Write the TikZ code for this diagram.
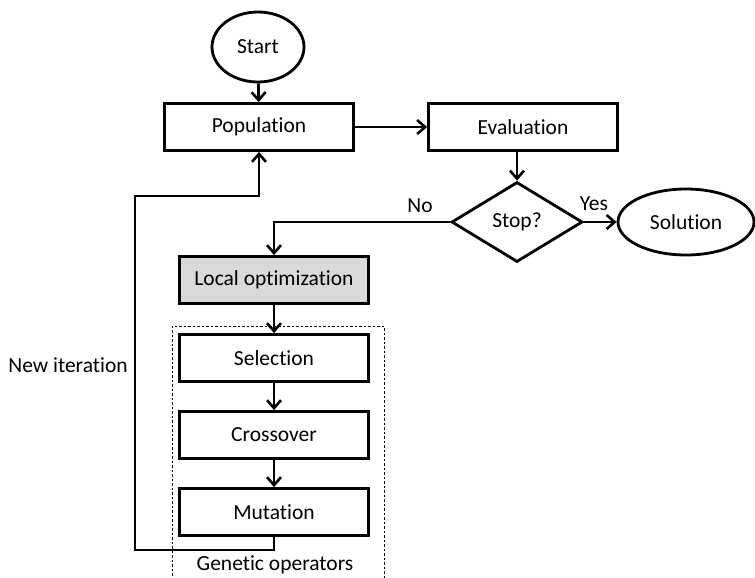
\documentclass[tikz,border=0pt]{standalone}
\usepackage{fontspec}
\setmainfont{Carlito}[Ligatures={NoCommon,NoRequired,NoContextual}]
\usetikzlibrary{shapes.geometric,arrows.meta}
\definecolor{boxgray}{RGB}{217,217,217}
\begin{document}
\begin{tikzpicture}[x=1pt,y=-1pt,
  font=\fontsize{21.5}{25}\selectfont,
  line width=2.8pt,
  stepbox/.style={draw,rectangle,minimum width=189pt,minimum height=47pt,inner sep=0pt},
  ovalbox/.style={draw,ellipse,inner sep=0pt},
  arr/.style={-{Straight Barb[length=8pt,width=14pt,line width=2.6pt]}},
  lbl/.style={inner sep=0pt}]
\useasboundingbox (0,0) rectangle (755,578);
\node[ovalbox,minimum width=92pt,minimum height=70pt] (start) at (258,47) {Start};
\node[stepbox] (pop) at (259,127) {Population};
\node[stepbox] (eval) at (523,127) {Evaluation};
\node[draw,diamond,minimum width=131pt,minimum height=80pt,inner sep=0pt] (stop) at (517,222) {Stop?};
\node[ovalbox,minimum width=136pt,minimum height=66pt] (sol) at (686,222) {Solution};
\node[stepbox,fill=boxgray] (lopt) at (274,280) {Local optimization};
\node[stepbox] (sel) at (274,358) {Selection};
\node[stepbox] (cross) at (274,435) {Crossover};
\node[stepbox] (mut) at (274,512) {Mutation};
\node[lbl] (no) at (420,206) {No};
\node[lbl] (yes) at (594,204) {Yes};
\node[lbl] (newit) at (68,365) {New iteration};
\node[lbl] (genop) at (275,565) {Genetic operators};
\coordinate (gtl) at (172,326);
\coordinate (gtr) at (384,326);
\coordinate (gbl) at (172,580);
\coordinate (gbr) at (384,580);
\draw[line width=0.9pt,dash pattern=on 2.5pt off 2pt] (gbl) -- (gtl) -- (gtr) -- (gbr);
\draw[arr] (start) -- (pop);
\draw[arr] (pop) -- (eval);
\draw[arr] (eval.south -| stop.north) -- (stop.north);
\draw[arr] (stop) -- (sol);
\draw[arr] (stop.west) -| (lopt.north);
\draw[arr] (lopt) -- (sel);
\draw[arr] (sel) -- (cross);
\draw[arr] (cross) -- (mut);
\coordinate (fb1) at (274,550);
\coordinate (fb2) at (135,196);
\draw[arr] (mut.south) -- (fb1) -| (fb2) -| (pop.south);
\end{tikzpicture}
\end{document}
